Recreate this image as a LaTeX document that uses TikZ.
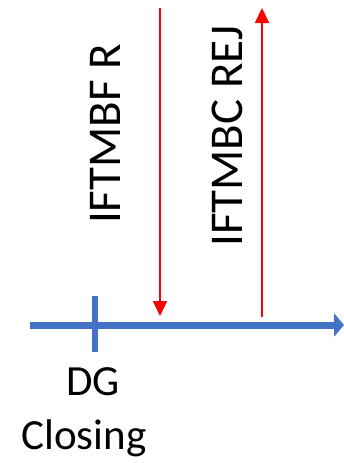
\documentclass[tikz,border=0pt]{standalone}
\usepackage{fontspec}
\setmainfont{Carlito}
\usetikzlibrary{arrows.meta}
\definecolor{axisblue}{HTML}{4472C4}
\tikzset{
  axisline/.style={draw=axisblue, line width=7pt},
  msg/.style={draw=red, line width=2pt, -{Triangle[length=15pt,width=14pt]}},
  lbl/.style={font=\fontsize{47}{62}\selectfont, inner sep=0pt},
  evlbl/.style={lbl, font=\fontsize{43}{54}\selectfont}
}
\begin{document}
\begin{tikzpicture}[x=1pt,y=-1pt]
  \useasboundingbox (0,0) rectangle (344,463);
  % time axis and its tick
  \coordinate (axstart) at (30,325);
  \coordinate (axend) at (344,325);
  \coordinate (ticktop) at (95,296);
  \coordinate (tickbot) at (95,352);
  \draw[axisline, -{Triangle[length=10pt,width=23pt]}] (axstart) -- (axend);
  \draw[axisline, line width=6pt] (ticktop) -- (tickbot);
  % messages
  \coordinate (bftop) at (160,8);
  \coordinate (bfbot) at (160,316);
  \coordinate (bctop) at (262,8);
  \coordinate (bcbot) at (262,317);
  \draw[msg] (bftop) -- (bfbot);
  \draw[msg] (bcbot) -- (bctop);
  \node[lbl, rotate=90] (iftmbf) at (105,134) {IFTMBF R};
  \node[lbl, rotate=90] (iftmbc) at (227,136) {IFTMBC REJ};
  % event label
  \node[evlbl, anchor=base] (dg) at (93,395) {DG};
  \node[evlbl, anchor=base] (closing) at (84,449) {Closing};
\end{tikzpicture}
\end{document}
